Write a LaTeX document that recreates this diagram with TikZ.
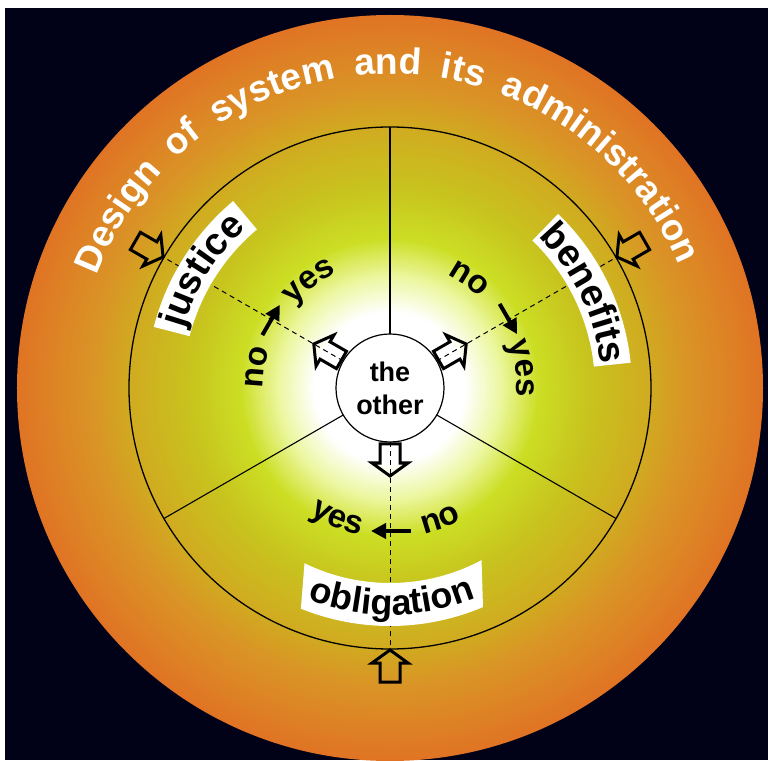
\documentclass[tikz,border=0pt]{standalone}
\usepackage{fontspec}
\setmainfont{Liberation Sans}
\usetikzlibrary{decorations.text,arrows.meta,calc}

\definecolor{bgdark}{RGB}{1,1,24}
\definecolor{gA}{RGB}{236,247,160}
\definecolor{gB}{RGB}{204,222,36}
\definecolor{gC}{RGB}{200,196,30}
\definecolor{gD}{RGB}{208,172,32}
\definecolor{gE}{RGB}{218,148,38}
\definecolor{gF}{RGB}{224,116,36}

% concentric colour steps: r1 < r2, colour at r1, colour at r2, steps
\newcommand\gradseg[5]{%
  \foreach \k in {0,...,#5}{%
    \pgfmathsetmacro\rr{#2-\k*(#2-#1)/#5}%
    \pgfmathsetmacro\tt{100*(1-\k/#5)}%
    \fill[#4!\tt!#3] (0,0) circle[radius=\rr];}}

% text on a clockwise arc (tops outward)
\newcommand\cwtext[5]{%
  \path[decorate,decoration={text along path,text align=center,
    text={|\bfseries\fontsize{#4}{#4}\selectfont|#5}}]
    ({#2+#3}:#1) arc[start angle={#2+#3}, end angle={#2-#3}, radius=#1];}
% text on a counter-clockwise arc (tops inward)
\newcommand\ccwtext[5]{%
  \path[decorate,decoration={text along path,text align=center,
    text={|\bfseries\fontsize{#4}{#4}\selectfont|#5}}]
    ({#2-#3}:#1) arc[start angle={#2-#3}, end angle={#2+#3}, radius=#1];}
% open block arrow: rotation, shift along rotated x
\newcommand\housearrow[2]{%
  \draw[housestyle, rotate=#1, xshift=#2pt]
    (0,-10)--(19,-10)--(19,-18)--(32,0)--(19,18)--(19,10)--(0,10)--cycle;}
% white curved label box: inner radius, inner angles, outer radius, outer angles
\newcommand\labelbox[6]{%
  \fill[white] (#2:#1) arc[start angle=#2, end angle=#3, radius=#1]
    -- (#6:#4) arc[start angle=#6, end angle=#5, radius=#4] -- cycle;}

\begin{document}
\begin{tikzpicture}[x=1pt,y=1pt,
  divider/.style={line width=1.1pt, draw=black},
  axisdash/.style={line width=1pt, draw=black, dash pattern=on 5pt off 4pt},
  housestyle/.style={line width=3pt, draw=black, line join=miter},
  tanarr/.style={line width=4pt, draw=black, -{Triangle[length=15pt,width=15pt]}}]
\useasboundingbox (-390,-372) rectangle (378,388);
\fill[white] (-390,-372) rectangle (378,388);
\fill[bgdark] (-385,-372) rectangle (378,380);

% radial colour field
\gradseg{300}{373}{gE}{gF}{36}
\gradseg{258}{300}{gD}{gE}{21}
\gradseg{200}{258}{gC}{gD}{29}
\gradseg{150}{200}{gB}{gC}{25}
\gradseg{112}{150}{gA}{gB}{19}
\gradseg{76}{112}{white}{gA}{18}

% outer ring title
\path[decorate,decoration={text along path,
    text align={fit to path stretching spaces}, text color=white,
    text={|\bfseries\fontsize{37}{37}\selectfont|Design of system and its administration}}]
  (159:314) arc[start angle=159, end angle=23, radius=314];

% inner circle
\coordinate (C) at (0,0);
\draw[line width=1.3pt] (C) circle[radius=261];

\coordinate (d90) at (90:261);
\coordinate (d210) at (210:261);
\coordinate (d330) at (330:261);
\coordinate (a150) at (150:261);
\coordinate (a30) at (30:261);
\coordinate (a270) at (270:261);
\coordinate (i150) at (150:54);
\coordinate (i30) at (30:54);
\coordinate (i270) at (270:54);

\draw[divider] (90:54) -- (d90);
\draw[divider] (210:54) -- (d210);
\draw[divider] (330:54) -- (d330);

\draw[axisdash] (i150) -- (a150);
\draw[axisdash] (i30) -- (a30);
\draw[axisdash] (i270) -- (a270);

% label boxes and labels
\labelbox{207}{130}{165.5}{244}{130}{165.5}
\labelbox{205}{6}{46}{242}{6}{46}
\labelbox{195}{244}{298}{238}{248}{293}
\cwtext{215}{148}{30}{38}{justice}
\cwtext{212}{26}{30}{38}{benefits}
\ccwtext{227}{270.5}{35}{36}{obligation}

% block arrows near centre (outward) and at rim (inward)
\housearrow{150}{56}
\housearrow{30}{56}
\housearrow{270}{56}
\housearrow{330}{-294}
\housearrow{210}{-294}
\housearrow{90}{-294}

% no -> yes arrows
\coordinate (js) at ($(150:137)+(60:-18)$);
\coordinate (je) at ($(150:137)+(60:17)$);
\draw[tanarr] (js) -- (je);
\coordinate (bs) at ($(30:137)+(-60:-18)$);
\coordinate (be) at ($(30:137)+(-60:17)$);
\draw[tanarr] (bs) -- (be);
\coordinate (os) at ($(270:143)+(180:-21)$);
\coordinate (oe) at ($(270:143)+(180:19)$);
\draw[tanarr] (os) -- (oe);

\cwtext{127}{171}{25}{33}{no}
\cwtext{127}{127}{25}{33}{yes}
\cwtext{127}{54}{25}{33}{no}
\cwtext{127}{8.5}{25}{33}{yes}
\ccwtext{150}{291}{25}{33}{no}
\ccwtext{150}{248}{25}{33}{yes}

\node[circle, draw=black, fill=white, line width=1.2pt, minimum size=108pt,
  inner sep=0pt, align=center, font=\bfseries\fontsize{27}{33}\selectfont]
  (other) at (C) {the\\other};
\end{tikzpicture}
\end{document}
